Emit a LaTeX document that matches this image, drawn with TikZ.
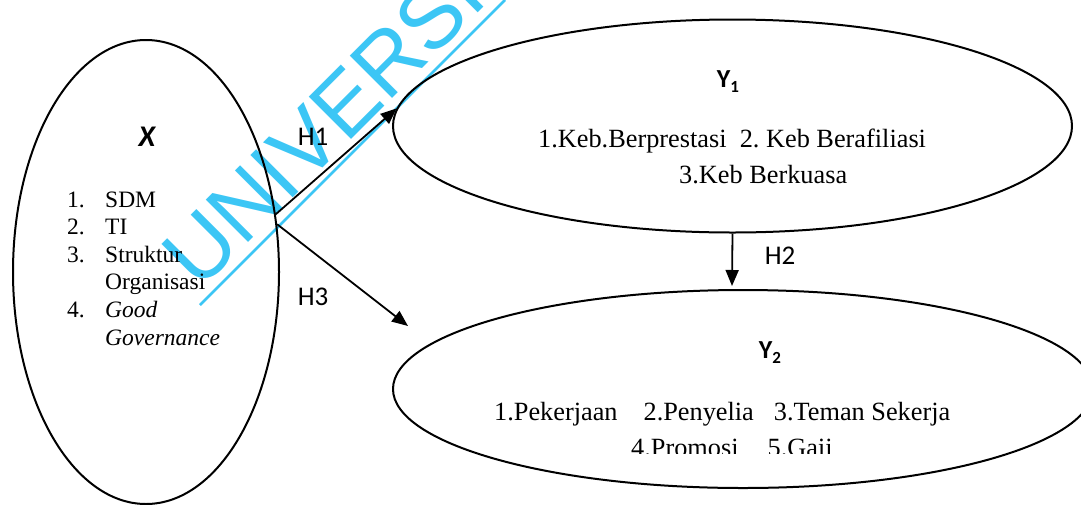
\documentclass[tikz,border=0pt]{standalone}
\usepackage{fontspec}
\setmainfont{Liberation Serif}
\newfontfamily\labfont{Carlito}
\newfontfamily\wmfont{Liberation Sans}
\usetikzlibrary{shapes.geometric,arrows.meta}
\definecolor{wmcyan}{RGB}{60,198,245}
\frenchspacing
\begin{document}
\begin{tikzpicture}[x=1pt,y=-1pt,
  oval/.style={draw=black,ellipse,line width=2pt,inner sep=0pt},
  serif/.style={inner sep=0pt,anchor=base west,font=\fontsize{26.3}{36}\selectfont},
  lab/.style={inner sep=0pt,anchor=base,font=\labfont\fontsize{27}{30}\selectfont},
  ylab/.style={inner sep=0pt,anchor=base,font=\labfont\bfseries\fontsize{26}{30}\selectfont},
  conn/.style={line width=1.8pt,-{Triangle[length=16pt,width=13pt]}}]
\useasboundingbox (0,0) rectangle (1081,504);
\clip (0,0) rectangle (1081,504);
% watermark
\node[rotate=45,anchor=base west,inner sep=0pt,text=wmcyan,
  font=\wmfont\fontsize{87}{87}\selectfont] (wm) at (199,292) {UNIVERSI};
\draw[wmcyan,line width=2.5pt] (200,305) -- (505,0);
% ellipses
\node[oval,minimum width=266pt,minimum height=464pt] (X) at (146,272) {};
\node[oval,minimum width=679pt,minimum height=213pt] (Y1) at (732.5,126) {};
\node[oval,minimum width=700pt,minimum height=198pt] (Y2) at (743,389) {};
% X content
\node[inner sep=0pt,anchor=base,font=\labfont\bfseries\itshape\fontsize{30}{34}\selectfont] (Xt) at (147,146) {X};
\node[inner sep=0pt,anchor=base west,font=\fontsize{23.5}{27.6}\selectfont] (Xl) at (67,207)
  {\begin{tabular}[t]{@{}p{38pt}@{}l@{}}
   1. & SDM\\
   2. & TI\\
   3. & Struktur\\
      & Organisasi\\
   4. & \textit{Good}\\
      & \textit{Governance}
   \end{tabular}};
% Y1 content
\node[ylab] (Y1t) at (728,87) {Y\raisebox{-5pt}{\fontsize{17}{17}\selectfont 1}};
\node[serif] (Y1a) at (538,147) {1.Keb.Berprestasi\ \ 2. Keb Berafiliasi};
\node[serif] (Y1b) at (679,183) {3.Keb Berkuasa};
% Y2 content
\node[ylab] (Y2t) at (770,358) {Y\raisebox{-5pt}{\fontsize{17}{17}\selectfont 2}};
\node[serif] (Y2a) at (494,420) {1.Pekerjaan\hspace{26pt}2.Penyelia\hspace{20pt}3.Teman Sekerja};
\begin{scope}
\clip (600,400) rectangle (900,453);
\node[serif] (Y2b) at (631,456) {4.Promosi\hspace{29pt}5.Gaji};
\end{scope}
% connectors
\coordinate (h3end) at (408,326);
\coordinate (h2end) at (732,286);
\draw[conn] (X.24.8) -- (Y1.177.5);
\draw[conn] (X.20.9) -- (h3end);
\draw[conn] (Y1.south) -- (h2end);
\node[lab] (H1) at (313,145) {H1};
\node[lab] (H3) at (313,305) {H3};
\node[lab] (H2) at (780,264) {H2};
\end{tikzpicture}
\end{document}
